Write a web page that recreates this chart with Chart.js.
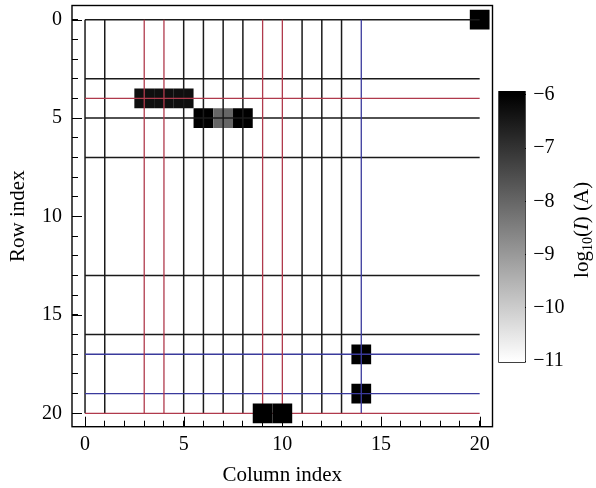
<!DOCTYPE html>
<html>
<head>
<meta charset="utf-8">
<script src="https://cdn.jsdelivr.net/npm/chart.js@4.4.1/dist/chart.umd.min.js"></script>
<style>
 html,body{margin:0;padding:0;background:#fff;}
 #wrap{position:relative;width:596px;height:488px;}
 #wrap canvas{position:absolute;left:0;top:0;}
</style>
</head>
<body>
<div id="wrap">
 <canvas id="map" width="596" height="488"></canvas>
 <canvas id="bar" width="596" height="488"></canvas>
</div>
<script>
/* data */
var colTicks=[0,5,10,15,20];
var rowTicks=[0,5,10,15,20];
var cbTicks=[-6,-7,-8,-9,-10,-11];
// measured cells: column, row, log10(I)
var cellCols=[20,3,4,5,6,7,8,14,14,9,10];
var cellRows=[0,4,4,4,5,5,5,17,19,20,20];
var cellVals=[-6,-6.3,-6.3,-6.3,-6,-8,-6,-6,-6,-6,-6];
// wires
var blackCols=[0,1,5,6,7,8,11,12,13];
var redCols=[3,4,9,10];
var blueCols=[14];
var blackRows=[0,3,5,7,13,16];
var redRows=[4,20];
var blueRows=[17,19];

/* helpers */
var colFirst=Math.min.apply(null,colTicks),colLast=Math.max.apply(null,colTicks);
var rowFirst=Math.min.apply(null,rowTicks),rowLast=Math.max.apply(null,rowTicks);
var cbMin=Math.min.apply(null,cbTicks),cbMax=Math.max.apply(null,cbTicks);
var serif="'Liberation Serif','Times New Roman',serif";
var tickFont={family:serif,size:20};
var titleFont={family:serif,size:21};

function grey(v){
 var t=(v-cbMin)/(cbMax-cbMin);
 t=Math.max(0,Math.min(1,t));
 var g=Math.round(255*(1-t));
 return 'rgb('+g+','+g+','+g+')';
}
function cells(onTop){
 var pts=[];
 for(var i=0;i<cellVals.length;i++){
  var edge=cellRows[i]==rowLast;
  if(edge==onTop) pts.push({x:cellCols[i],y:cellRows[i],v:cellVals[i]});
 }
 return pts;
}
function wires(cols,rows){
 var d=[];
 cols.forEach(function(c){d.push({x:c,y:rowFirst},{x:c,y:rowLast},{x:c,y:null});});
 rows.forEach(function(r){d.push({x:colFirst,y:r},{x:colLast,y:r},{x:null,y:r});});
 return d;
}
function cellRadius(ctx){
 var s=ctx.chart.scales.x;
 return Math.abs(s.getPixelForValue(1)-s.getPixelForValue(0))/Math.SQRT2;
}
function cellSet(onTop,order){
 return {data:cells(onTop),order:order,pointStyle:'rect',pointRadius:cellRadius,pointHoverRadius:cellRadius,
  pointBorderWidth:0,pointBackgroundColor:function(c){return c.raw?grey(c.raw.v):'#000';}};
}
function wireSet(cols,rows,color,width,order){
 return {data:wires(cols,rows),order:order,showLine:true,borderColor:color,borderWidth:width,pointRadius:0,spanGaps:false};
}
// fixed axis box, no label overflow padding
function fixBox(w,h){
 return function(s){
  if(w!=null) s.width=w;
  if(h!=null) s.height=h;
  s.paddingTop=0;s.paddingBottom=0;s.paddingLeft=0;s.paddingRight=0;
 };
}

/* frame + major ticks */
var frame={id:'frame',afterDraw:function(chart){
 var c=chart.ctx,a=chart.chartArea,sx=chart.scales.x,sy=chart.scales.y;
 c.save();
 c.strokeStyle='#000';c.lineWidth=1;
 c.beginPath();
 colTicks.forEach(function(v){var p=Math.round(sx.getPixelForValue(v))+0.5;c.moveTo(p,a.bottom);c.lineTo(p,a.bottom-10);});
 rowTicks.forEach(function(v){var p=Math.round(sy.getPixelForValue(v))+0.5;c.moveTo(a.left,p);c.lineTo(a.left+10,p);});
 c.stroke();
 c.lineWidth=1.4;
 c.strokeRect(a.left,a.top,a.width,a.height);
 c.restore();
}};

new Chart(document.getElementById('map'),{
 type:'scatter',
 data:{datasets:[
  cellSet(false,3),
  wireSet(blackCols,blackRows,'#1a1a1a',1.5,2),
  wireSet(redCols,redRows,'#b03a4c',1.3,1),
  wireSet(blueCols,blueRows,'#3a3a9c',1.3,1),
  cellSet(true,0)
 ]},
 options:{
  responsive:false,animation:false,events:[],
  layout:{padding:{left:0,right:103.5,top:5.5,bottom:0}},
  plugins:{legend:{display:false},tooltip:{enabled:false}},
  scales:{
   x:{type:'linear',min:-0.66,max:20.65,
    afterFit:fixBox(null,61.3),
    border:{display:false},
    grid:{drawOnChartArea:false,tickLength:-6,tickColor:'#000',tickWidth:1},
    ticks:{stepSize:1,includeBounds:false,autoSkip:false,maxRotation:0,padding:12,color:'#000',font:tickFont,
     callback:function(v){return colTicks.indexOf(v)>=0?String(v):'';}},
    title:{display:true,text:'Column index',color:'#000',font:titleFont,padding:{top:0,bottom:0}}},
   y:{type:'linear',reverse:true,min:-0.72,max:20.68,
    afterFit:fixBox(72,null),
    border:{display:false},
    grid:{drawOnChartArea:false,tickLength:-6,tickColor:'#000',tickWidth:1},
    ticks:{stepSize:1,includeBounds:false,autoSkip:false,padding:16,color:'#000',font:tickFont,
     callback:function(v){return rowTicks.indexOf(v)>=0?String(v):'';}},
    title:{display:true,text:'Row index',color:'#000',font:titleFont,padding:{top:6,bottom:0}}}
  }
 },
 plugins:[frame]
});

/* colour bar */
var cbTitle={id:'cbTitle',afterDraw:function(chart){
 var c=chart.ctx,a=chart.chartArea;
 var big='21px '+serif,small='14px '+serif,ital='italic 21px '+serif;
 var parts=[['log',big,0],['10',small,6],['(',big,0],['I',ital,0],[') (A)',big,0]];
 var total=0;
 parts.forEach(function(p){c.font=p[1];total+=c.measureText(p[0]).width;});
 c.save();
 c.translate(a.right+57,(a.top+a.bottom)/2+3);
 c.rotate(-Math.PI/2);
 c.fillStyle='#000';c.textBaseline='middle';c.textAlign='left';
 var x=-total/2;
 parts.forEach(function(p){c.font=p[1];c.fillText(p[0],x,p[2]);x+=c.measureText(p[0]).width;});
 c.restore();
}};

new Chart(document.getElementById('bar'),{
 type:'bar',
 data:{labels:[''],datasets:[{
  data:[[-11.03,-5.93]],
  backgroundColor:function(ctx){
   var ch=ctx.chart,s=ch.scales.y;
   if(!ch.chartArea||!s) return '#888';
   var g=ch.ctx.createLinearGradient(0,s.getPixelForValue(cbMax),0,s.getPixelForValue(cbMin));
   g.addColorStop(0,grey(cbMax));g.addColorStop(1,grey(cbMin));
   return g;
  },
  borderColor:'#000',borderWidth:1,borderSkipped:false,barPercentage:1,categoryPercentage:1
 }]},
 options:{
  responsive:false,animation:false,events:[],
  layout:{padding:{left:498.3,right:0,top:91,bottom:125.3}},
  plugins:{legend:{display:false},tooltip:{enabled:false}},
  scales:{
   x:{display:false},
   y:{position:'right',min:-11.03,max:-5.93,
    afterFit:fixBox(70.3,null),
    border:{display:false},
    grid:{drawOnChartArea:false,tickLength:-9,tickColor:'#000',tickWidth:1},
    ticks:{stepSize:1,includeBounds:false,padding:16.5,color:'#000',font:tickFont,
     callback:function(v){return cbTicks.indexOf(v)>=0?String(v).replace('-','\u2212'):'';}}}
  }
 },
 plugins:[cbTitle]
});
</script>
</body>
</html>
